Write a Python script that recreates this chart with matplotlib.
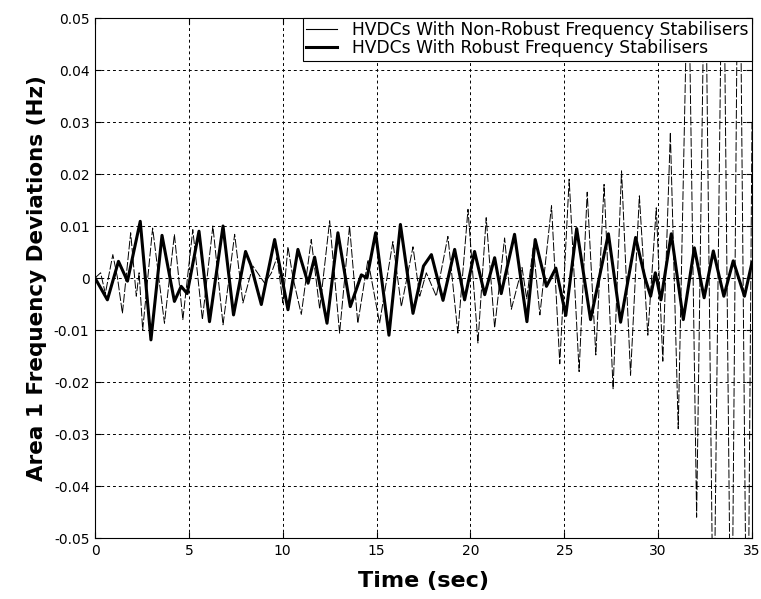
import matplotlib
matplotlib.use('Agg')
import matplotlib.pyplot as plt
from matplotlib.lines import Line2D

# robust stabiliser response (thick line), extrema
t_robust = [0, 0.66, 1.25, 1.73, 2.41, 2.98, 3.57, 4.23, 4.59, 4.91, 5.54, 6.1, 6.82, 7.38,
            8.02, 8.3, 8.86, 9.57, 10.28, 10.81, 11.35, 11.7, 12.36, 12.94, 13.6, 14.19,
            14.49, 14.95, 15.66, 16.27, 16.94, 17.5, 17.92, 18.54, 19.16, 19.69, 20.22,
            20.76, 21.29, 21.64, 22.35, 23.01, 23.45, 24.05, 24.55, 25.08, 25.66, 26.4,
            27.35, 28.0, 28.8, 29.3, 29.6, 29.85, 30.15, 30.7, 31.34, 31.93, 32.45, 32.94,
            33.5, 34.0, 34.6, 35.0]
f_robust = [0, -0.0042, 0.0032, -0.0006, 0.0109, -0.0119, 0.0082, -0.0045, -0.0016, -0.003,
            0.009, -0.0084, 0.010, -0.0071, 0.0051, 0.0025, -0.0051, 0.0074, -0.0061, 0.0055,
            -0.001, 0.004, -0.0087, 0.0087, -0.0055, 0.0006, 0.0, 0.0087, -0.011, 0.0103,
            -0.0068, 0.0023, 0.0045, -0.0043, 0.0055, -0.0042, 0.0051, -0.0032, 0.0039,
            -0.003, 0.0084, -0.0084, 0.0074, -0.0016, 0.0019, -0.0072, 0.0095, -0.008,
            0.0085, -0.0085, 0.0078, 0.0, -0.0035, 0.001, -0.0042, 0.0085, -0.008, 0.0058,
            -0.0038, 0.0052, -0.0035, 0.0033, -0.0035, 0.003]

# non-robust stabiliser response (thin line)
t_nonrobust = [0, 0.3, 0.55, 0.95, 1.2, 1.46, 1.9, 2.2, 2.35, 2.54, 3.07, 3.7, 4.23, 4.68,
               5.21, 5.72, 6.28, 6.82, 7.44, 7.88, 8.41, 9.04, 9.4, 9.7, 10.01, 10.28, 10.55,
               10.99, 11.52, 11.97, 12.5, 13.03, 13.56, 14.0, 14.54, 15.16, 15.87, 16.32,
               16.94, 17.3, 17.65, 18.18, 18.8, 19.33, 19.87, 20.4, 20.84, 21.29, 21.82,
               22.18, 22.75, 23.0, 23.35, 23.7, 24.32, 24.76, 25.26, 25.79, 26.22, 26.68,
               27.12, 27.6, 28.05, 28.53, 29.0, 29.45, 29.9, 30.25, 30.65, 31.07, 31.6,
               32.05, 32.5, 32.95, 33.45, 33.9, 34.3, 34.75, 35.0]
f_nonrobust = [0, 0.001, -0.003, 0.0045, 0.0, -0.0068, 0.0087, -0.0035, 0.001, -0.010,
               0.0096, -0.0087, 0.0084, -0.008, 0.0093, -0.008, 0.010, -0.009, 0.0084,
               -0.0048, 0.0023, -0.001, 0.001, 0.004, -0.0048, 0.006, 0.0, -0.007, 0.0074,
               -0.006, 0.011, -0.0106, 0.010, -0.0087, 0.0035, -0.0087, 0.007, -0.0055,
               0.006, -0.0035, 0.001, -0.0035, 0.008, -0.0106, 0.0132, -0.0125, 0.0116,
               -0.0096, 0.0077, -0.006, 0.002, -0.004, 0.006, -0.0071, 0.0139, -0.0165,
               0.019, -0.018, 0.0165, -0.0148, 0.018, -0.0213, 0.0206, -0.0187, 0.0158,
               -0.011, 0.0135, -0.016, 0.028, -0.029, 0.065, -0.046, 0.07, -0.075, 0.08,
               -0.085, 0.09, -0.09, 0.03]

legend_labels = ['HVDCs With Non-Robust Frequency Stabilisers',
                 'HVDCs With Robust Frequency Stabilisers']
x_ticks = [0, 5, 10, 15, 20, 25, 30, 35]
y_ticks = [-0.05, -0.04, -0.03, -0.02, -0.01, 0, 0.01, 0.02, 0.03, 0.04, 0.05]
y_ticklabels = ['-0.05', '-0.04', '-0.03', '-0.02', '-0.01', '0',
                '0.01', '0.02', '0.03', '0.04', '0.05']

plt.rcParams['font.family'] = ['DejaVu Sans']

fig = plt.figure(figsize=(7.61, 5.99), dpi=100)
W, H = 761, 599
top, bottom = 18, 538
ax = fig.add_axes([95 / W, 1 - bottom / H, (752 - 95) / W, (bottom - top) / H])

# thin line looks broken into strokes in the original print
ax.plot(t_nonrobust, f_nonrobust, color='black', lw=0.7, linestyle=(0, (9, 2)))
ax.plot(t_robust, f_robust, color='black', lw=2.2, solid_joinstyle='round')

ax.set_xlim(0, 35)
ax.set_ylim(-0.05, 0.05)
ax.set_xticks(x_ticks)
ax.set_yticks(y_ticks)
ax.set_yticklabels(y_ticklabels)
ax.grid(True, color='black', linestyle=(0, (3, 3)), linewidth=0.7)
ax.tick_params(direction='in', top=True, right=True, length=4, labelsize=10, pad=4)
for s in ax.spines.values():
    s.set_linewidth(0.8)

ax.set_xlabel('Time (sec)', fontsize=16, fontweight='bold', labelpad=10)
ax.set_ylabel('Area 1 Frequency Deviations (Hz)', fontsize=15.5, fontweight='bold', labelpad=5)

# legend shows plain solid samples
handles = [Line2D([], [], color='black', lw=0.8), Line2D([], [], color='black', lw=2.2)]
leg = ax.legend(handles, legend_labels, loc='upper right', fontsize=12.3, frameon=True,
                fancybox=False, borderaxespad=0, handlelength=1.8, handletextpad=0.9,
                borderpad=0.2, labelspacing=0.0)
leg.get_frame().set_edgecolor('black')
leg.get_frame().set_linewidth(0.8)
leg.get_frame().set_alpha(1)

fig.savefig('out.png', dpi=100)
